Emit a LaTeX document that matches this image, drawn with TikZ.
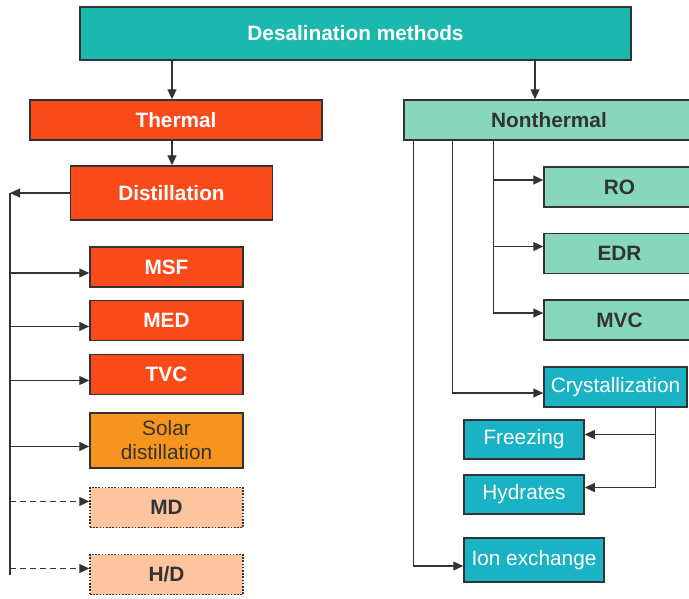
\documentclass[tikz,border=0pt]{standalone}
\usepackage{fontspec}
\setmainfont{Liberation Sans}
\usetikzlibrary{arrows.meta}
\definecolor{desal}{HTML}{1BB8AE}
\definecolor{hot}{HTML}{FA4A1A}
\definecolor{solar}{HTML}{F7941E}
\definecolor{peach}{HTML}{FCC49F}
\definecolor{mint}{HTML}{86D7BB}
\definecolor{ice}{HTML}{19B3C5}
\definecolor{ink}{HTML}{333333}
\tikzset{
  box/.style={draw=ink, line width=1.5pt, inner sep=0pt, minimum height=40pt,
    font=\fontsize{20.8}{24}\selectfont, text=ink},
  boldbox/.style={box, font=\fontsize{20.8}{24}\selectfont\bfseries},
  hotbox/.style={boldbox, fill=hot, text=white, minimum width=153pt},
  peachbox/.style={boldbox, fill=peach, dash pattern=on 1.6pt off 1.6pt, minimum width=153pt},
  mintbox/.style={boldbox, fill=mint, minimum width=151pt},
  icebox/.style={box, fill=ice, text=white},
  arr/.style={draw=ink, line width=1.2pt, -{Triangle[length=10pt,width=9pt]}},
  wire/.style={draw=ink, line width=1.2pt}
}
\begin{document}
\begin{tikzpicture}[x=1pt,y=-1pt]
\useasboundingbox (0,0) rectangle (689,598);
% top level
\node[boldbox, fill=desal, text=white, minimum width=551pt, minimum height=53pt] (desal) at (355.5,33.5) {Desalination methods};
\node[hotbox, minimum width=292pt] (thermal) at (176,120) {Thermal};
\node[mintbox, minimum width=290pt] (nonth) at (549,120) {Nonthermal};
% thermal branch
\node[hotbox, minimum width=202pt, minimum height=54pt] (distill) at (171.5,193) {Distillation};
\node[hotbox] (msf) at (166.5,267) {MSF};
\node[hotbox] (med) at (166.5,320.5) {MED};
\node[hotbox] (tvc) at (166.5,374.5) {TVC};
\node[box, fill=solar, minimum width=153pt, minimum height=55pt, align=center] (solar) at (166.5,440.5) {Solar\\distillation};
\node[peachbox] (md) at (166.5,507.5) {MD};
\node[peachbox] (hd) at (166.5,574.5) {H/D};
% nonthermal branch
\node[mintbox] (ro) at (619.5,187) {RO};
\node[mintbox] (edr) at (619.5,253.5) {EDR};
\node[mintbox] (mvc) at (619.5,320) {MVC};
\node[icebox, minimum width=143pt] (cryst) at (615.5,387) {Crystallization};
\node[icebox, minimum width=120pt, minimum height=39pt] (freez) at (524,439.5) {Freezing};
\node[icebox, minimum width=120pt, minimum height=39pt] (hydr) at (524,494.5) {Hydrates};
\node[icebox, minimum width=140pt, minimum height=44pt] (ion) at (534,560) {Ion exchange};

\draw[arr] (desal.south -| 172,0) -- (thermal.north -| 172,0);
\draw[arr] (desal.south -| 535,0) -- (nonth.north -| 535,0);
\draw[arr] (thermal.south -| 172,0) -- (distill.north -| 172,0);

% left trunk
\coordinate (trunk) at (10,193);
\draw[arr] (distill.west) -- (trunk);
\draw[wire] (trunk) -- (trunk |- hd.west);
\foreach \n in {msf,med,tvc,solar}
  \draw[arr] (trunk |- \n.west) ++(0,6) -- ([yshift=-6pt]\n.west);
\foreach \n in {md,hd}
  \draw[arr, dash pattern=on 6pt off 4pt] (trunk |- \n.west) ++(0,-6) -- ([yshift=6pt]\n.west);

% right trunks
\coordinate (t1) at ([xshift=10pt]nonth.south west);
\coordinate (t2) at ([xshift=49pt]nonth.south west);
\coordinate (t3) at ([xshift=90pt]nonth.south west);
\foreach \n in {ro,edr,mvc}
  \draw[arr] (t3) |- ([yshift=7pt]\n.west);
\draw[arr] (t2) |- ([yshift=-6pt]cryst.west);
\draw[arr] (t1) |- ([yshift=-6pt]ion.west);
\coordinate (c1) at ([xshift=40pt]cryst.south);
\draw[arr] (c1) |- ([yshift=5pt]freez.east);
\draw[arr] (c1) |- ([yshift=7pt]hydr.east);
\end{tikzpicture}
\end{document}
